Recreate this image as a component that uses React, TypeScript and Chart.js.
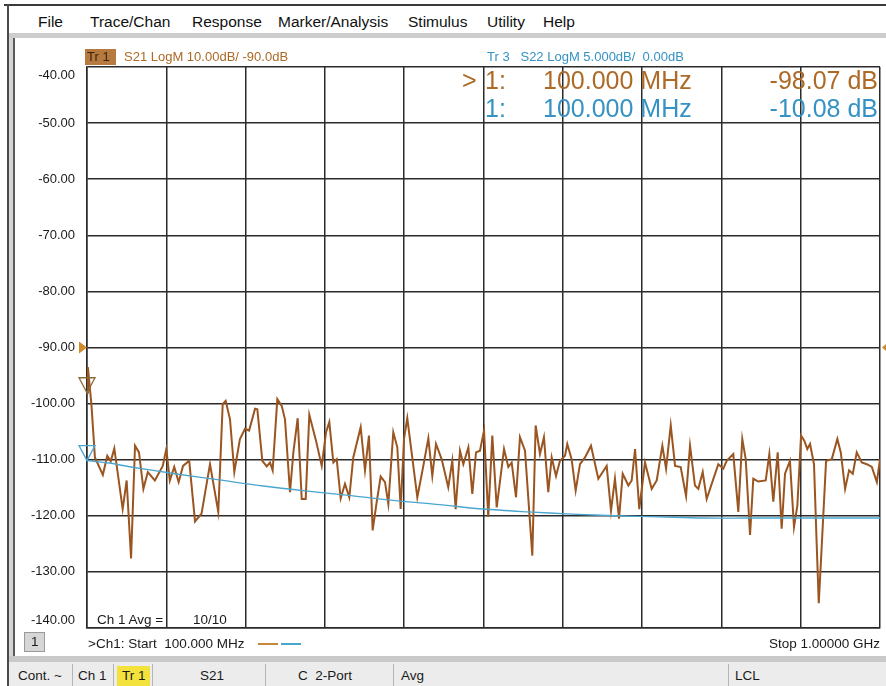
import React, { useEffect, useRef } from "react";
import { Chart, registerables } from "chart.js";

Chart.register(...registerables);

// ---- DATA ----
const s21Freq = [
  100, 101, 105, 109, 118, 123, 127, 131, 140.5, 145, 150, 154.5, 159, 164, 169, 177, 186, 190, 194, 199,
  204, 209, 216, 222.6, 230, 239.6, 249, 254, 257.4, 262.3, 267.2, 273.6, 279.3, 284, 290.7, 293.3, 299, 304, 307.7, 310.7,
  316, 321, 324.7, 330.4, 334.2, 339.1, 343.7, 348.2, 352.3, 359.9, 366.4, 371.3, 375, 379.6, 383.4, 387.9, 392.8, 397.7, 402.2, 410.6,
  415.5, 420, 424.2, 428.8, 433.3, 438.2, 442, 447.6, 452.2, 456, 459.8, 463.5, 468.4, 474.9, 481.7, 487.4, 491.9, 496.1, 502.5, 510,
  514.6, 518.4, 523.3, 527.1, 532.8, 537.3, 541.5, 546, 550.6, 555.4, 560, 565, 573.3, 578.2, 582, 586.9, 591.4, 597.1, 605.4, 609.2,
  614.1, 618.6, 623.5, 627.4, 632.3, 636.8, 642.5, 645.1, 650, 654.6, 659.5, 665.2, 672, 680.3, 689.8, 694.7, 699.2, 703.8, 708, 714.4,
  718.2, 722, 726.8, 733.3, 740.9, 746.6, 753, 757.2, 762.5, 767.4, 773.8, 779.9, 784.4, 790, 793.8, 798.8, 803.3, 809, 816.5, 822.2,
  826, 833.5, 839.2, 843.7, 847.6, 852.5, 856.2, 861.9, 870.3, 874.4, 878.9, 883.9, 888.4, 892.2, 897.8, 902.4, 906.2, 910.4, 914.1, 917.5,
  920.6, 925.1, 928.2, 930.5, 933.9, 938.8, 945.3, 951.6, 955.5, 960.4, 964.9, 969.1, 973.6, 979.3, 985, 990.7, 996.4, 1000,
];
const s21Db = [
  -98.07, -93.5, -100.1, -109.6, -112.7, -109.3, -110.3, -108.0, -118.8, -113.7, -127.6, -107.5, -108.7, -115.2, -112.2, -113.7, -111.1, -108.1, -113.7, -111.3,
  -114.0, -111.1, -110.2, -121.0, -119.6, -110.8, -119.3, -100.1, -99.5, -102.8, -112.2, -106.3, -104.5, -104.8, -100.9, -101.0, -110.2, -111.2, -110.5, -111.9,
  -99.2, -100.4, -102.8, -115.8, -108.7, -102.6, -117.0, -117.0, -102.0, -106.6, -111.1, -105.1, -103.3, -110.5, -109.9, -116.9, -114.3, -116.7, -109.6, -104.2,
  -111.9, -105.7, -122.6, -117.5, -113.0, -114.0, -117.9, -105.1, -107.8, -118.8, -106.3, -102.6, -108.7, -116.7, -111.1, -106.2, -112.9, -107.2, -109.9, -114.9,
  -110.2, -118.8, -108.4, -110.8, -107.8, -116.1, -108.7, -108.4, -104.8, -120.2, -105.7, -118.5, -108.1, -111.3, -110.5, -116.7, -106.0, -108.4, -127.1, -103.9,
  -109.0, -106.0, -115.8, -109.6, -112.9, -110.2, -109.3, -107.2, -109.9, -115.5, -110.8, -109.6, -107.5, -113.4, -111.1, -119.1, -113.4, -120.5, -112.5, -114.6,
  -113.7, -108.1, -118.8, -110.5, -115.2, -113.7, -107.5, -111.6, -103.9, -111.1, -111.3, -116.5, -107.5, -114.6, -115.2, -112.2, -117.0, -114.3, -110.8, -111.6,
  -110.2, -109.0, -119.3, -106.3, -109.9, -123.4, -113.4, -113.9, -113.7, -109.0, -117.5, -108.7, -122.3, -112.5, -110.2, -122.0, -118.2, -105.7, -106.6, -108.1,
  -107.2, -110.8, -125.3, -135.6, -125.3, -110.2, -109.9, -106.3, -108.7, -115.2, -111.9, -112.5, -108.7, -110.5, -110.8, -111.3, -114.0, -109.9,
];
const s22Freq = [100, 125, 150, 200, 250, 300, 350, 400, 450, 500, 550, 600, 650, 700, 750, 800, 850, 900, 950, 1000];
const s22Db = [-10.08, -10.3, -10.65, -11.25, -11.8, -12.35, -12.8, -13.2, -13.65, -14.0, -14.4, -14.65, -14.85, -15.0, -15.1, -15.2, -15.2, -15.2, -15.2, -15.2];

const xTicks = [100, 190, 280, 370, 460, 550, 640, 730, 820, 910, 1000];
const yTicks = [-40, -50, -60, -70, -80, -90, -100, -110, -120, -130, -140];

const markerFreq = 100;
const markerS21 = -98.07;
const markerS22 = -10.08;
const refLevel = -90;

const menuItems = ["File", "Trace/Chan", "Response", "Marker/Analysis", "Stimulus", "Utility", "Help"];
const menuX = [38, 90, 192, 278, 408, 487, 543];

const BROWN = "#9a5520";
const BROWN_TXT = "#ad6a26";
const BLUE = "#4aa6cf";
const BLUE_TXT = "#3592c4";
const FONT = '"Liberation Sans", Arial, sans-serif';

const overlayPlugin = {
  id: "overlay",
  afterDraw(chart: any) {
    const { ctx, chartArea, scales } = chart;
    const y = scales.y;
    const y2 = scales.y2;
    const x = scales.x;
    ctx.save();
    // y tick labels
    ctx.font = "13px " + FONT;
    ctx.fillStyle = "#1a1a1a";
    ctx.textAlign = "right";
    ctx.textBaseline = "middle";
    yTicks.forEach((v) => {
      let py = y.getPixelForValue(v);
      if (v === y.max) py += 8;
      if (v === y.min) py -= 8;
      ctx.fillText(v.toFixed(2), chartArea.left - 12, py);
    });
    // reference level arrows
    const yr = y.getPixelForValue(refLevel);
    ctx.fillStyle = "#d08a2a";
    ctx.beginPath();
    ctx.moveTo(chartArea.left - 8, yr - 6);
    ctx.lineTo(chartArea.left - 8, yr + 6);
    ctx.lineTo(chartArea.left, yr);
    ctx.closePath();
    ctx.fill();
    ctx.beginPath();
    ctx.moveTo(chartArea.right + 9, yr - 6);
    ctx.lineTo(chartArea.right + 9, yr + 6);
    ctx.lineTo(chartArea.right + 2, yr);
    ctx.closePath();
    ctx.fill();
    // marker triangles
    const mx = x.getPixelForValue(markerFreq);
    const drawTri = (py: number, color: string) => {
      ctx.strokeStyle = color;
      ctx.lineWidth = 1.3;
      ctx.beginPath();
      ctx.moveTo(mx - 8, py - 15);
      ctx.lineTo(mx + 8, py - 15);
      ctx.lineTo(mx, py);
      ctx.closePath();
      ctx.stroke();
    };
    drawTri(y.getPixelForValue(markerS21), "#8a6a3a");
    drawTri(y2.getPixelForValue(markerS22), BLUE);
    ctx.restore();
  },
};

function VnaChart() {
  const ref = useRef<HTMLCanvasElement>(null);
  useEffect(() => {
    if (!ref.current) return;
    const gridCfg = { color: "#2b2b2b", lineWidth: 1.5, drawTicks: false };
    const chart = new Chart(ref.current, {
      type: "line",
      data: {
        datasets: [
          {
            label: "S22",
            data: s22Freq.map((f, i) => ({ x: f, y: s22Db[i] })),
            borderColor: BLUE,
            borderWidth: 1.4,
            pointRadius: 0,
            tension: 0.3,
            yAxisID: "y2",
          },
          {
            label: "S21",
            data: s21Freq.map((f, i) => ({ x: f, y: s21Db[i] })),
            borderColor: BROWN,
            borderWidth: 2,
            pointRadius: 0,
            tension: 0,
            yAxisID: "y",
          },
        ],
      },
      options: {
        responsive: false,
        animation: false,
        events: [],
        layout: { padding: { left: 0, top: 22, right: 6, bottom: 17 } },
        plugins: { legend: { display: false }, tooltip: { enabled: false } },
        scales: {
          x: {
            type: "linear",
            min: 100,
            max: 1000,
            afterBuildTicks: (s: any) => {
              s.ticks = xTicks.map((v) => ({ value: v }));
            },
            afterFit: (s: any) => {
              s.height = 0;
            },
            ticks: { display: false },
            grid: gridCfg,
            border: { display: true, color: "#2b2b2b", width: 1.5 },
          },
          y: {
            min: -140,
            max: -40,
            afterBuildTicks: (s: any) => {
              s.ticks = yTicks.map((v) => ({ value: v }));
            },
            afterFit: (s: any) => {
              s.width = 77;
            },
            ticks: { display: false },
            grid: gridCfg,
            border: { display: true, color: "#2b2b2b", width: 1.5 },
          },
          y2: { min: -25, max: 25, display: false },
        },
      },
      plugins: [overlayPlugin],
    } as any);
    return () => chart.destroy();
  }, []);
  return <canvas ref={ref} width={876} height={600} style={{ position: "absolute", left: 10, top: 45, width: 876, height: 600 }} />;
}

const abs = (left: number, top: number, extra: any = {}) => ({ position: "absolute" as const, left, top, whiteSpace: "pre" as const, ...extra });

export default function App() {
  const t13 = { fontFamily: FONT, fontSize: 13.5, lineHeight: "16px", color: "#1a1a1a" };
  const big = { fontFamily: FONT, fontSize: 25, lineHeight: "28px" };
  return (
    <div style={{ position: "fixed", left: 0, top: 0, width: 886, height: 686, background: "#fff", overflow: "hidden" }}>
      {/* outer frame */}
      <div style={abs(4, 4, { width: 882, height: 2, background: "#3a3a3a" })} />
      <div style={abs(7, 4, { width: 2, height: 682, background: "#4a4a4a" })} />
      <div style={abs(9, 38, { width: 5, height: 620, background: "#d4d4d4" })} />
      <div style={abs(13, 38, { width: 2, height: 620, background: "#5a5a5a" })} />
      {/* menu */}
      {menuItems.map((m, i) => (
        <span key={m} style={abs(menuX[i], 12, { fontFamily: FONT, fontSize: 15.5, lineHeight: "20px", color: "#111" })}>
          {m}
        </span>
      ))}
      <div style={abs(9, 33, { width: 877, height: 5, background: "#cdcdcd" })} />
      {/* chart */}
      <VnaChart />
      {/* trace headers */}
      <div style={abs(85, 49, { width: 31, height: 16, background: "#b77a3e" })} />
      <span style={abs(87, 49, { ...t13, fontSize: 13, color: "#3a2410" })}>Tr 1</span>
      <span style={abs(124, 49, { ...t13, fontSize: 13, color: BROWN_TXT })}>S21 LogM 10.00dB/ -90.0dB</span>
      <span style={abs(487, 49, { ...t13, fontSize: 13, color: BLUE_TXT })}>Tr 3   S22 LogM 5.000dB/  0.00dB</span>
      {/* marker readout */}
      <span style={abs(462, 66, { ...big, color: BROWN_TXT })}>{">"}</span>
      <span style={abs(485, 66, { ...big, color: BROWN_TXT })}>1:</span>
      <span style={abs(543, 66, { ...big, color: BROWN_TXT })}>{markerFreq.toFixed(3)} MHz</span>
      <span style={{ ...abs(0, 66, { ...big, color: BROWN_TXT }), left: undefined, right: 8 }}>{markerS21.toFixed(2)} dB</span>
      <span style={abs(485, 94, { ...big, color: BLUE_TXT })}>1:</span>
      <span style={abs(543, 94, { ...big, color: BLUE_TXT })}>{markerFreq.toFixed(3)} MHz</span>
      <span style={{ ...abs(0, 94, { ...big, color: BLUE_TXT }), left: undefined, right: 8 }}>{markerS22.toFixed(2)} dB</span>
      {/* averaging */}
      <span style={abs(97, 612, t13)}>Ch 1 Avg =</span>
      <span style={abs(193, 612, t13)}>10/10</span>
      {/* bottom info line */}
      <div style={abs(24, 632, { width: 21, height: 20, background: "#d6d6d6", border: "1px solid #9a9a9a", boxSizing: "border-box" })} />
      <span style={abs(31, 634, t13)}>1</span>
      <span style={abs(88, 636, t13)}>{">Ch1: Start  100.000 MHz"}</span>
      <div style={abs(258, 643, { width: 20, height: 1.5, background: "#c8863a" })} />
      <div style={abs(281, 643, { width: 20, height: 1.5, background: BLUE })} />
      <span style={{ ...abs(0, 636, t13), left: undefined, right: 6 }}>Stop 1.00000 GHz</span>
      {/* status bar */}
      <div style={abs(9, 656, { width: 877, height: 6, background: "#c9c9c9" })} />
      <div style={abs(9, 662, { width: 877, height: 24, background: "#ececec" })} />
      {[72, 113, 152, 265, 393, 728].map((x) => (
        <div key={x} style={abs(x, 664, { width: 1, height: 22, background: "#b5b5b5" })} />
      ))}
      <div style={abs(117, 666, { width: 33, height: 20, background: "#f3e23c" })} />
      <span style={abs(18, 668, t13)}>Cont. ~</span>
      <span style={abs(78, 668, t13)}>Ch 1</span>
      <span style={abs(122, 668, t13)}>Tr 1</span>
      <span style={abs(200, 668, t13)}>S21</span>
      <span style={abs(298, 668, t13)}>C  2-Port</span>
      <span style={abs(401, 668, t13)}>Avg</span>
      <span style={abs(735, 668, t13)}>LCL</span>
    </div>
  );
}
